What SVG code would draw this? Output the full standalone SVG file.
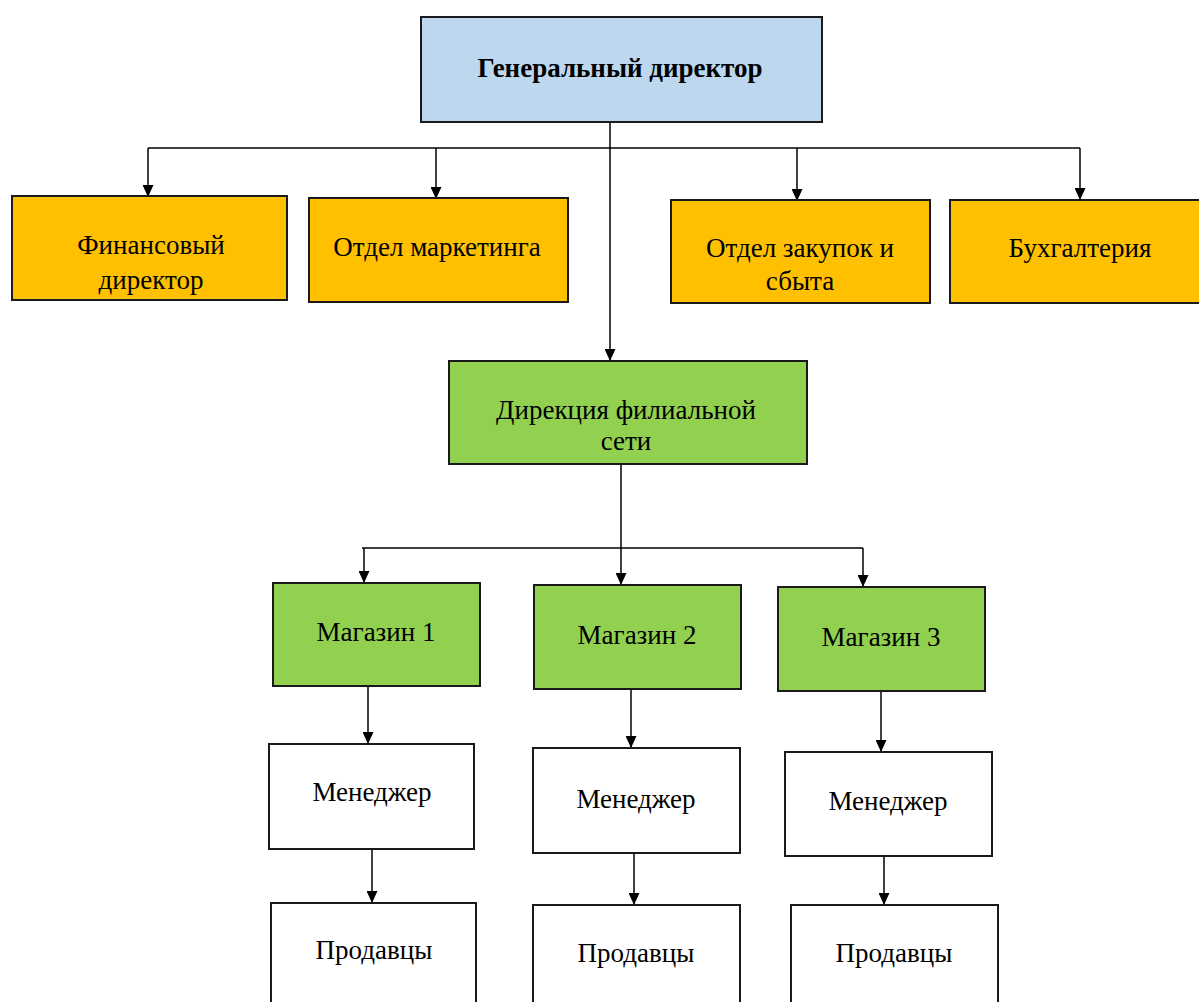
<svg xmlns="http://www.w3.org/2000/svg" width="1199" height="1002" viewBox="0 0 1199 1002">
<defs>
<marker id="arr" markerWidth="12" markerHeight="11" refX="11" refY="5.5" orient="auto" markerUnits="userSpaceOnUse">
<path d="M0,0 L12,5.5 L0,11 Z" fill="#000"/>
</marker>
<style>
.box{stroke:#1a1a1a;stroke-width:2}
.blue{fill:#BDD7EE}
.yellow{fill:#FFC000}
.green{fill:#92D050}
.white{fill:#FFFFFF}
text{font-family:"Liberation Serif","DejaVu Serif",serif;font-size:27px;fill:#000;text-anchor:middle}
.b{font-weight:bold;font-size:27px}
.c{fill:none;stroke:#000;stroke-width:1.5}
.ca{fill:none;stroke:#000;stroke-width:1.5;marker-end:url(#arr)}
</style>
</defs>
<rect width="1199" height="1002" fill="#fff"/>
<g id="connectors">
<path class="c" d="M148,148 H1080"/>
<path class="ca" d="M148,148 V196"/>
<path class="ca" d="M436,148 V198"/>
<path class="ca" d="M797,148 V200"/>
<path class="ca" d="M1080,148 V199"/>
<path class="ca" d="M610,122 V360"/>
<path class="c" d="M362,548 H863"/>
<path class="ca" d="M621,464 V584"/>
<path class="ca" d="M364,548 V582"/>
<path class="ca" d="M863,548 V586"/>
<path class="ca" d="M368,686 V743"/>
<path class="ca" d="M631,689 V747"/>
<path class="ca" d="M881,691 V751"/>
<path class="ca" d="M372,849 V902"/>
<path class="ca" d="M634,853 V904"/>
<path class="ca" d="M884,856 V904"/>
</g>
<g id="gen-director"><rect class="box blue" x="421" y="17" width="401" height="105"/><text class="b" x="620" y="77">Генеральный директор</text></g>
<g id="fin-director"><rect class="box yellow" x="12" y="196" width="275" height="104"/><text x="151" y="254">Финансовый</text><text x="151" y="289">директор</text></g>
<g id="marketing"><rect class="box yellow" x="309" y="198" width="259" height="104"/><text x="437" y="256">Отдел маркетинга</text></g>
<g id="purchasing"><rect class="box yellow" x="671" y="200" width="259" height="103"/><text x="800" y="257">Отдел закупок и</text><text x="800" y="290">сбыта</text></g>
<g id="accounting"><rect class="box yellow" x="950" y="200" width="252" height="103"/><text x="1080" y="257">Бухгалтерия</text></g>
<g id="branch-directorate"><rect class="box green" x="449" y="361" width="358" height="103"/><text x="626" y="419">Дирекция филиальной</text><text x="626" y="450">сети</text></g>
<g id="shop1"><rect class="box green" x="273" y="583" width="207" height="103"/><text x="376" y="641">Магазин 1</text></g>
<g id="shop2"><rect class="box green" x="534" y="585" width="207" height="104"/><text x="637" y="644">Магазин 2</text></g>
<g id="shop3"><rect class="box green" x="778" y="587" width="207" height="104"/><text x="881" y="646">Магазин 3</text></g>
<g id="manager1"><rect class="box white" x="269" y="744" width="205" height="105"/><text x="372" y="801">Менеджер</text></g>
<g id="manager2"><rect class="box white" x="533" y="748" width="207" height="105"/><text x="636" y="808">Менеджер</text></g>
<g id="manager3"><rect class="box white" x="785" y="752" width="207" height="104"/><text x="888" y="810">Менеджер</text></g>
<g id="sellers1"><rect class="box white" x="271" y="903" width="205" height="110"/><text x="374" y="959">Продавцы</text></g>
<g id="sellers2"><rect class="box white" x="533" y="905" width="207" height="110"/><text x="636" y="962">Продавцы</text></g>
<g id="sellers3"><rect class="box white" x="791" y="905" width="207" height="110"/><text x="894" y="962">Продавцы</text></g>
</svg>
